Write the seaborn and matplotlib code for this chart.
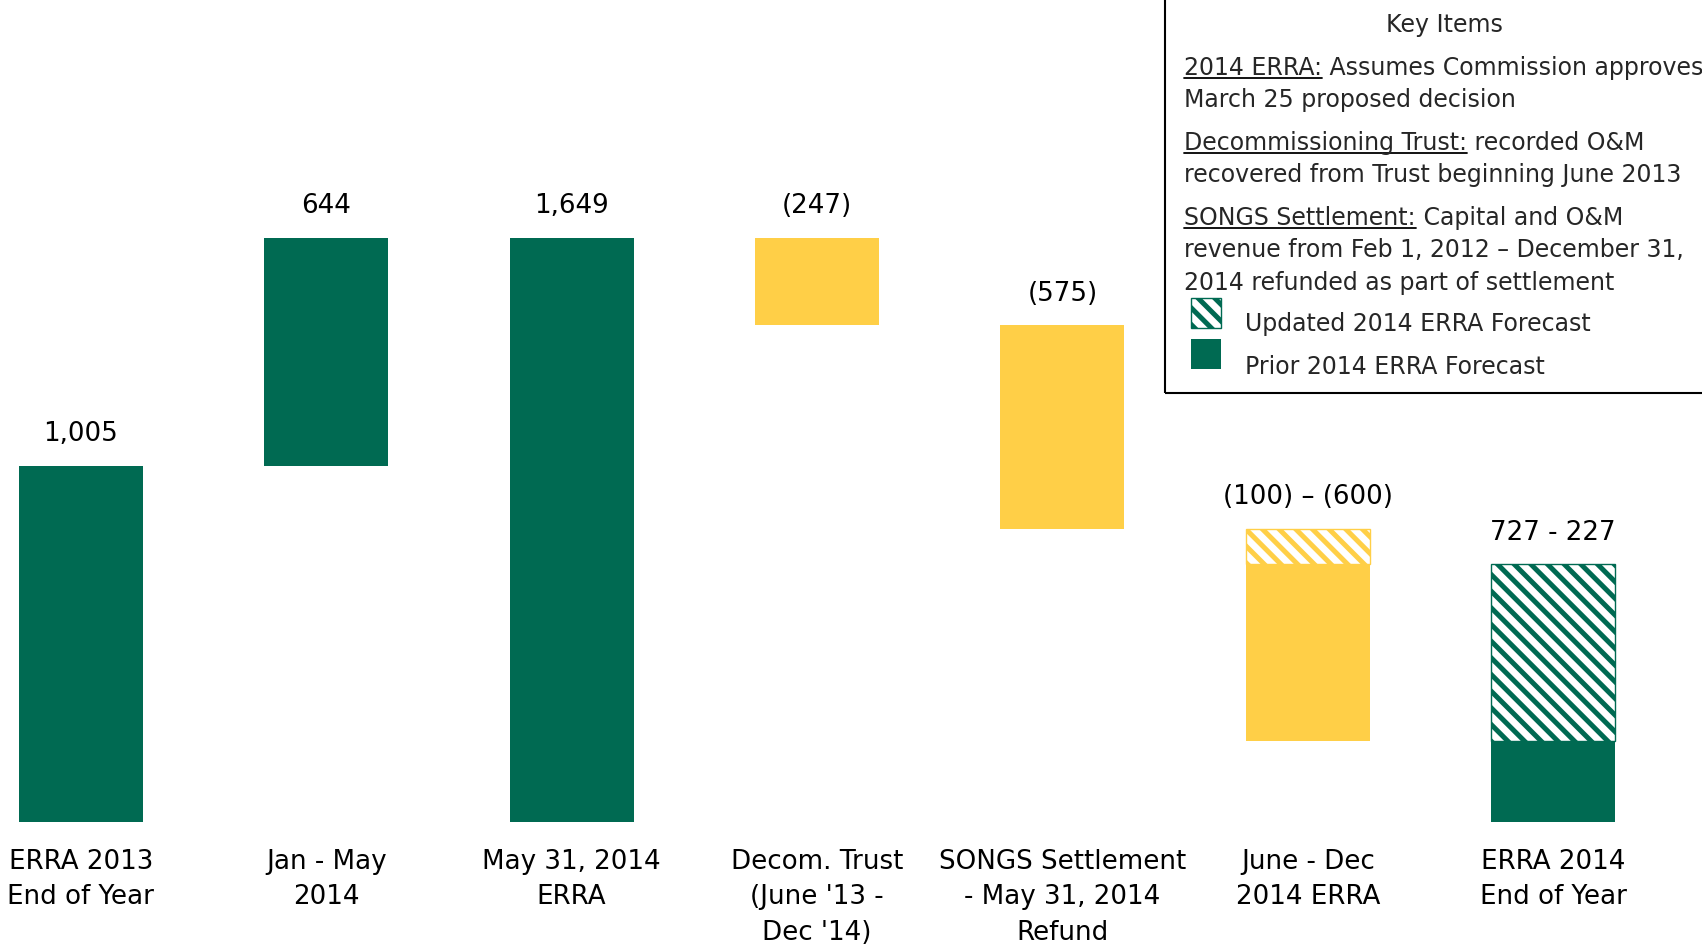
import numpy as np
import pandas as pd
import seaborn as sns
import matplotlib
matplotlib.use("Agg")
import matplotlib.pyplot as plt
from matplotlib.patches import Rectangle
from matplotlib.lines import Line2D
from matplotlib.transforms import IdentityTransform

# data
categories = ["ERRA 2013\nEnd of Year", "Jan - May\n2014", "May 31, 2014\nERRA",
              "Decom. Trust\n(June '13 -\nDec '14)", "SONGS Settlement\n- May 31, 2014\nRefund",
              "June - Dec\n2014 ERRA", "ERRA 2014\nEnd of Year"]
start_balance = 1005
jan_may = 644
decom_trust = -247
songs_refund = -575
june_dec_low = -100
june_dec_high = -600
value_labels = ["1,005", "644", "1,649", "(247)", "(575)", "(100) \u2013 (600)", "727 - 227"]

GREEN = "#006A52"
YELLOW = "#FFCF47"

may31 = start_balance + jan_may
after_decom = may31 + decom_trust
after_songs = after_decom + songs_refund
end_high = after_songs + june_dec_low
end_low = after_songs + june_dec_high

# segments: (step, bottom, height, kind)
rows = [
    (categories[0], 0, start_balance, "green"),
    (categories[1], start_balance, jan_may, "green"),
    (categories[2], 0, may31, "green"),
    (categories[3], after_decom, -decom_trust, "yellow"),
    (categories[4], after_songs, -songs_refund, "yellow"),
    (categories[5], end_low, end_high - end_low, "yellow"),
    (categories[5], end_high, after_songs - end_high, "yellow_hatch"),
    (categories[6], 0, end_low, "green"),
    (categories[6], end_low, end_high - end_low, "green_hatch"),
]
df = pd.DataFrame(rows, columns=["step", "bottom", "height", "kind"])
bar_tops = [start_balance, may31, may31, may31, after_decom, after_songs, end_high]

sns.set_theme(style="white")
plt.rcParams["font.family"] = ["DejaVu Sans"]
plt.rcParams["hatch.linewidth"] = 3.6

fig = plt.figure(figsize=(17.02, 9.47), dpi=100)
ax = fig.add_axes([0, 125.5 / 947, 1, 821.5 / 947])

styles = {
    "green": dict(color=GREEN, linewidth=0),
    "yellow": dict(color=YELLOW, linewidth=0),
    "yellow_hatch": dict(color=YELLOW, facecolor="white", edgecolor=YELLOW, hatch="\\\\", linewidth=1),
    "green_hatch": dict(color=GREEN, facecolor="white", edgecolor=GREEN, hatch="\\\\", linewidth=1),
}
for kind, st in styles.items():
    sub = df[df["kind"] == kind]
    sub = sub.set_index("step").reindex([c for c in categories if c in set(sub["step"])]).reset_index()
    sns.barplot(data=sub, x="step", y="height", order=categories, width=0.505,
                errorbar=None, saturation=1, bottom=sub["bottom"].to_numpy(), ax=ax, **st)

fs_chart = 18.8
for i, (lab, top) in enumerate(zip(value_labels, bar_tops)):
    ax.annotate(lab, xy=(i, top), xytext=(0, 17.5), textcoords="offset points",
                ha="center", va="baseline", fontsize=fs_chart, color="black")

ax.set_xlim(-0.329, 6.606)
ax.set_ylim(0, 821.5 / 0.354)
ax.set_xticks(range(len(categories)))
ax.set_xticklabels(categories, linespacing=1.48)
ax.tick_params(axis="x", length=0, pad=19.5, labelsize=fs_chart, labelcolor="black")
ax.set_yticks([])
ax.set_xlabel("")
ax.set_ylabel("")
for s in ax.spines.values():
    s.set_visible(False)

# key items box (pixel coordinates from top)
H = 947
ident = IdentityTransform()
fig.patches.append(Rectangle((1165, H - 393), 600, 500, transform=ident, fill=False,
                             edgecolor="black", linewidth=1.5, figure=fig))
fs = 17.0
fig.text(1444, H - 32, "Key Items", transform=ident, ha="center", va="baseline", fontsize=fs)

renderer = fig.canvas.get_renderer()
x0 = 1184
paras = [
    ("2014 ERRA:", " Assumes Commission approves", ["March 25 proposed decision"], 75),
    ("Decommissioning Trust:", " recorded O&M", ["recovered from Trust beginning June 2013"], 150),
    ("SONGS Settlement:", " Capital and O&M",
     ["revenue from Feb 1, 2012 \u2013 December 31,", "2014 refunded as part of settlement"], 225),
]
for head, rest, more, ytop in paras:
    t = fig.text(x0, H - ytop, head, transform=ident, ha="left", va="baseline", fontsize=fs)
    bb = t.get_window_extent(renderer)
    fig.lines.append(Line2D([bb.x0, bb.x1], [H - ytop - 3, H - ytop - 3], transform=ident,
                            color="black", linewidth=1.3, figure=fig))
    fig.text(bb.x1, H - ytop, rest, transform=ident, ha="left", va="baseline", fontsize=fs)
    for k, line in enumerate(more):
        fig.text(x0, H - ytop - 32.3 * (k + 1), line, transform=ident, ha="left",
                 va="baseline", fontsize=fs)

fig.patches.append(Rectangle((1191, H - 328), 30, 30, transform=ident, facecolor="white",
                             edgecolor=GREEN, hatch="\\\\", linewidth=1, figure=fig))
fig.patches.append(Rectangle((1191, H - 369), 30, 30, transform=ident, facecolor=GREEN,
                             edgecolor=GREEN, linewidth=0, figure=fig))
fig.text(1245, H - 331, "Updated 2014 ERRA Forecast", transform=ident, ha="left",
         va="baseline", fontsize=fs)
fig.text(1245, H - 373.5, "Prior 2014 ERRA Forecast", transform=ident, ha="left",
         va="baseline", fontsize=fs)

fig.savefig("out.png", dpi=100)
